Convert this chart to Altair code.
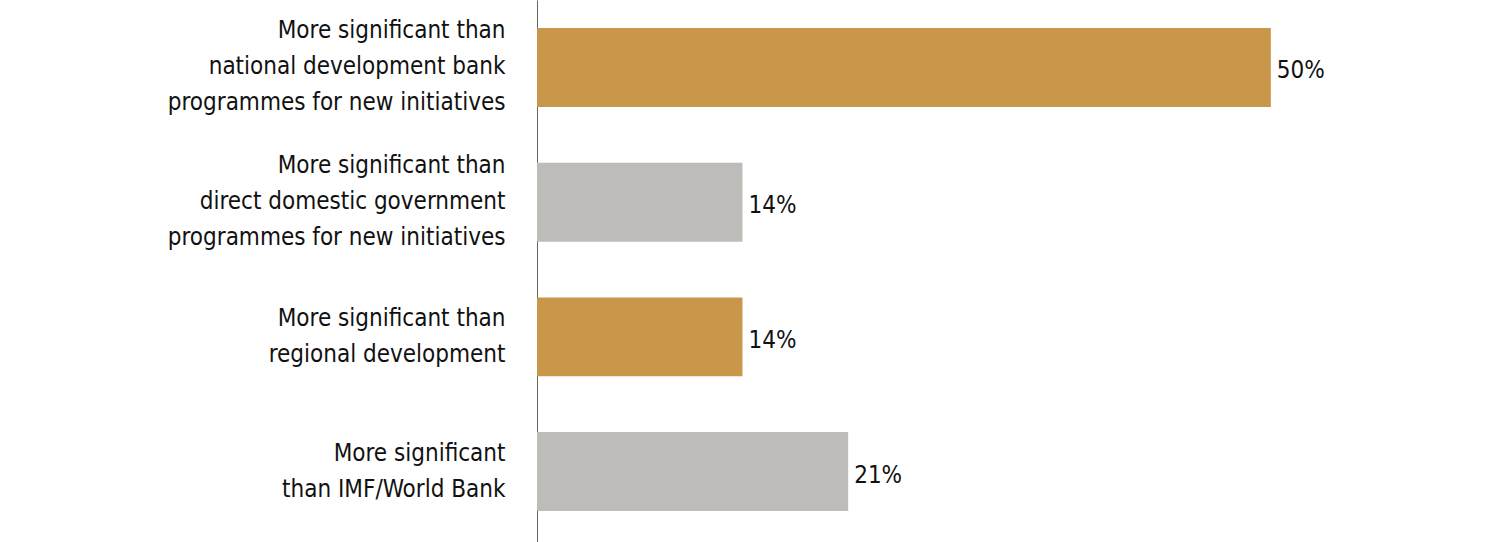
import altair as alt
import pandas as pd

categories = [
    "More significant than|national development bank|programmes for new initiatives",
    "More significant than|direct domestic government|programmes for new initiatives",
    "More significant than|regional development",
    "More significant|than IMF/World Bank",
]
values = [50, 14, 14, 21.2]
labels = ["50%", "14%", "14%", "21%"]
groups = ["A", "B", "A", "B"]

df = pd.DataFrame({"category": categories, "value": values, "label": labels, "group": groups})

FONT = "Liberation Sans Narrow, DejaVu Sans Condensed, sans-serif"

y = alt.Y(
    "category:N",
    sort=None,
    title=None,
    scale=alt.Scale(paddingInner=0.414, paddingOuter=0.219, align=0.475),
    axis=alt.Axis(
        labelExpr="split(datum.label, '|')",
        labelFont=FONT,
        labelFontSize=24,
        labelLineHeight=36,
        labelColor="#111111",
        labelPadding=32,
        labelLimit=0,
        labelBaseline="middle",
        labelOffset={
            "condition": {"test": "length(split(datum.value, '|')) == 3", "value": -36},
            "value": -18,
        },
        ticks=False,
        domainColor="#666666",
        domainWidth=1,
        grid=False,
    ),
)
x = alt.X("value:Q", title=None, scale=alt.Scale(domain=[0, 65], nice=False), axis=None)

bars = alt.Chart(df).mark_bar().encode(
    x=x,
    y=y,
    color=alt.Color(
        "group:N",
        scale=alt.Scale(domain=["A", "B"], range=["#C8974A", "#BDBCB9"]),
        legend=None,
    ),
)

text = alt.Chart(df).mark_text(
    align="left", baseline="middle", dx=6, dy=4, font=FONT, fontSize=24, color="#111111"
).encode(x=x, y=y, text="label:N")

chart = (
    alt.layer(bars, text)
    .properties(
        width=954,
        height=542,
        padding={"left": 537, "top": 0, "right": 0, "bottom": 0},
        autosize=alt.AutoSizeParams(type="none"),
        view=alt.ViewBackground(stroke="transparent", strokeWidth=0),
    )
    .configure_view(stroke="transparent", strokeWidth=0)
    .configure(background="white")
)

chart.save("out.html", embed_options={"renderer": "svg", "actions": False})
